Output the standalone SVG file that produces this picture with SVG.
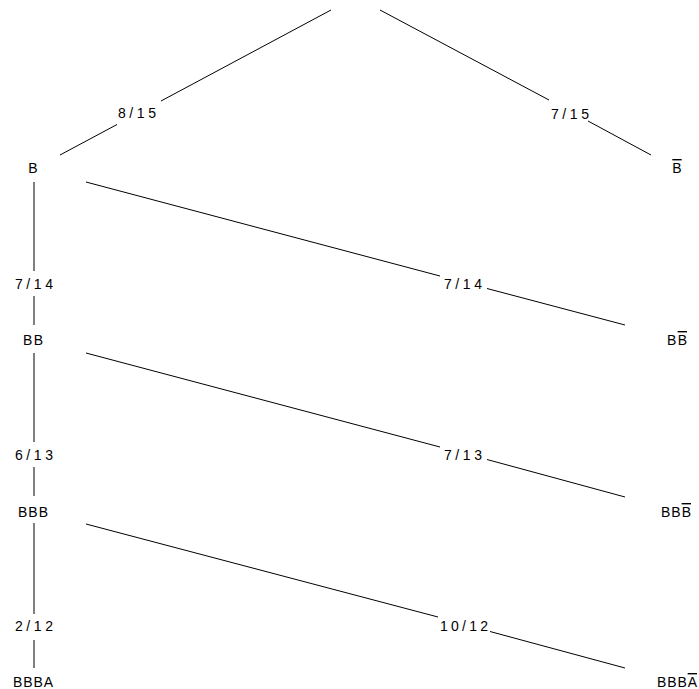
<svg xmlns="http://www.w3.org/2000/svg" width="699" height="689" viewBox="0 0 699 689">
<style>
.e{stroke:#000;stroke-width:1;fill:none}
text{font-family:"Liberation Sans","Arial",sans-serif;font-size:14px;fill:#000;text-anchor:middle}
.ov{text-decoration:overline}
</style>
<rect width="699" height="689" fill="#fff"/>
<g id="connectors">
<line class="e" x1="331" y1="10" x2="161" y2="101"/>
<line class="e" x1="117" y1="124.5" x2="60" y2="155"/>
<line class="e" x1="380" y1="10" x2="549" y2="100"/>
<line class="e" x1="588" y1="121" x2="651" y2="155"/>
<line class="e" x1="34" y1="182" x2="34" y2="271"/>
<line class="e" x1="34" y1="296" x2="34" y2="325"/>
<line class="e" x1="86" y1="182" x2="440" y2="276"/>
<line class="e" x1="487" y1="288.5" x2="625" y2="325"/>
<line class="e" x1="34" y1="353" x2="34" y2="442"/>
<line class="e" x1="34" y1="467" x2="34" y2="496"/>
<line class="e" x1="86" y1="353" x2="440" y2="447"/>
<line class="e" x1="487" y1="459.5" x2="625" y2="497"/>
<line class="e" x1="34" y1="523" x2="34" y2="614"/>
<line class="e" x1="34" y1="640" x2="34" y2="668"/>
<line class="e" x1="86" y1="524" x2="438" y2="617"/>
<line class="e" x1="490" y1="631.5" x2="625" y2="668"/>
<text x="137" y="118" textLength="38" lengthAdjust="spacing">8/15</text>
<text x="570" y="119" textLength="38" lengthAdjust="spacing">7/15</text>
<text x="34" y="289" textLength="38" lengthAdjust="spacing">7/14</text>
<text x="463" y="289" textLength="38" lengthAdjust="spacing">7/14</text>
<text x="34" y="460" textLength="38" lengthAdjust="spacing">6/13</text>
<text x="463" y="460" textLength="38" lengthAdjust="spacing">7/13</text>
<text x="34" y="631" textLength="38" lengthAdjust="spacing">2/12</text>
<text x="464" y="631" textLength="48" lengthAdjust="spacing">10/12</text>
</g>
<g id="n_B"><text x="33" y="173">B</text></g>
<g id="n_notB"><text x="677" y="173"><tspan class="ov">B</tspan></text></g>
<g id="n_BB"><text x="33" y="345" textLength="20" lengthAdjust="spacing">BB</text></g>
<g id="n_BnotB"><text x="677" y="345" textLength="20" lengthAdjust="spacing">B<tspan class="ov">B</tspan></text></g>
<g id="n_BBB"><text x="33" y="517" textLength="30" lengthAdjust="spacing">BBB</text></g>
<g id="n_BBnotB"><text x="676" y="517" textLength="30" lengthAdjust="spacing">BB<tspan class="ov">B</tspan></text></g>
<g id="n_BBBA"><text x="33" y="687" textLength="40" lengthAdjust="spacing">BBBA</text></g>
<g id="n_BBBnotA"><text x="677" y="687" textLength="40" lengthAdjust="spacing">BBB<tspan class="ov">A</tspan></text></g>
</svg>
